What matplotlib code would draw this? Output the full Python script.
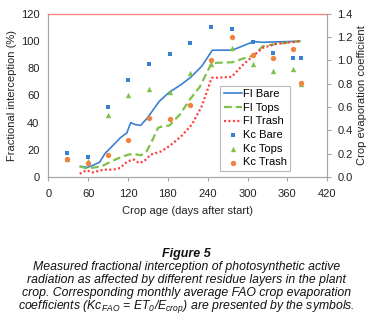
import matplotlib
matplotlib.use("Agg")
import matplotlib.pyplot as plt

plt.rcParams['font.family'] = ['Liberation Sans', 'DejaVu Sans']
plt.rcParams['mathtext.fontset'] = 'custom'
plt.rcParams['mathtext.rm'] = 'Liberation Sans:italic'
plt.rcParams['mathtext.it'] = 'Liberation Sans:italic'

# fractional interception lines (%)
fi_bare_day = [48, 59, 67, 77, 85, 96, 108, 118, 124, 131, 139, 149, 167, 182, 200, 215, 231, 247, 277, 309, 323, 379]
fi_bare = [7.8, 7.1, 8.6, 10.8, 17.2, 22.6, 28.7, 32.4, 40.0, 38.5, 38.0, 43.4, 55.7, 62.3, 68.0, 73.6, 81.5, 93.3, 93.3, 99.6, 99.1, 99.9]

fi_tops_day = [47, 59, 70, 80, 90, 103, 120, 129, 139, 148, 157, 165, 172, 182, 198, 213, 228, 246, 277, 292, 309, 323, 343, 379]
fi_tops = [7.8, 6.1, 7.1, 7.8, 10.3, 13.3, 16.4, 16.9, 15.9, 18.9, 27.5, 36.1, 37.3, 37.8, 45.9, 56.9, 66.3, 83.9, 84.4, 86.9, 89.3, 96.2, 97.9, 99.9]

fi_trash_day = [47, 57, 67, 83, 98, 108, 119, 129, 136, 144, 154, 170, 182, 200, 216, 231, 246, 276, 292, 309, 323, 343, 379]
fi_trash = [2.4, 4.9, 3.4, 5.4, 5.4, 6.6, 11.5, 12.8, 10.3, 11.5, 16.4, 18.9, 22.6, 29.9, 38.5, 52.0, 72.9, 73.6, 82.0, 89.3, 95.0, 97.9, 99.9]

# monthly FAO crop evaporation coefficients
kc_day = [28, 59, 89, 120, 152, 183, 214, 245, 276, 308, 338, 369, 380]
kc_bare = [0.21, 0.17, 0.60, 0.83, 0.97, 1.06, 1.15, 1.29, 1.27, 1.16, 1.065, 1.02, 1.02]
kc_tops = [0.15, 0.14, 0.53, 0.70, 0.756, 0.73, 0.89, 0.97, 1.105, 0.97, 0.91, 0.93, 0.80]
kc_trash = [0.152, 0.12, 0.186, 0.315, 0.51, 0.495, 0.62, 1.00, 1.20, 1.045, 1.02, 1.10, 0.805]

xticks = [0, 60, 120, 180, 240, 300, 360, 420]

blue = '#3a80d0'
green = '#7dc14b'
red = '#ff3a3a'
orange = '#ee8440'
grey = '#a6a6a6'
fs = 8

fig = plt.figure(figsize=(3.73, 3.16), dpi=100)
ax = fig.add_axes([0.130, 0.44, 0.747, 0.516])
ax2 = ax.twinx()

l1, = ax.plot(fi_bare_day, fi_bare, color=blue, lw=1.2, label='FI Bare')
l2, = ax.plot(fi_tops_day, fi_tops, color=green, lw=1.6, ls=(0, (3.5, 1.8)), label='FI Tops')
l3, = ax.plot(fi_trash_day, fi_trash, color=red, lw=1.6, ls=(0, (0.9, 1.1)), label='FI Trash')
ax.axhline(120, color='#f4877f', lw=1.0, clip_on=False)

s1 = ax2.scatter(kc_day, kc_bare, marker='s', s=11, color=blue, lw=0, label='Kc Bare')
s2 = ax2.scatter(kc_day, kc_tops, marker='^', s=15, color=green, lw=0, label='Kc Tops')
s3 = ax2.scatter(kc_day, kc_trash, marker='o', s=15, color=orange, lw=0, label='Kc Trash')

ax.set_xlim(0, 420)
ax.set_ylim(0, 120)
ax.set_xticks(xticks)
ax.set_yticks(range(0, 121, 20))
ax2.set_ylim(0, 1.4)
ax2.set_yticks([i * 0.2 for i in range(8)])
ax2.set_yticklabels([f'{i * 0.2:.1f}' for i in range(8)])

for a in (ax, ax2):
    for side in ('left', 'right', 'bottom'):
        a.spines[side].set_color(grey)
        a.spines[side].set_linewidth(0.8)
    a.spines['top'].set_visible(False)
    a.tick_params(labelsize=fs, colors=grey, labelcolor='#222222', length=3, width=0.8)
ax.tick_params(axis='x', pad=5.5)
ax.tick_params(axis='y', length=0, pad=6.5)
ax2.tick_params(axis='y', pad=4.5)

ax.set_xlabel('Crop age (days after start)', fontsize=fs, color='#222222', labelpad=5)
ax.set_ylabel('Fractional interception (%)', fontsize=fs, color='#222222', labelpad=3)
ax2.set_ylabel('Crop evaporation coefficient', fontsize=fs, color='#222222', labelpad=3)

leg = ax2.legend(handles=[l1, l2, l3, s1, s2, s3], loc='lower left',
                 bbox_to_anchor=(0.617, 0.038), fontsize=fs, frameon=True,
                 fancybox=False, edgecolor=grey, handlelength=1.6, handletextpad=0.1,
                 borderpad=0.3, labelspacing=0.33, borderaxespad=0)
leg.get_frame().set_linewidth(0.8)

fig.text(0.5, 0.196, 'Figure 5', ha='center', va='center', fontsize=9,
         style='italic', weight='bold', color='#111111')
caption = [
    'Measured fractional interception of photosynthetic active',
    'radiation as affected by different residue layers in the plant',
    'crop. Corresponding monthly average FAO crop evaporation',
    'coefficients (Kc$_{FAO}$ = ET$_{0}$/E$_{crop}$) are presented by the symbols.',
]
for i, line in enumerate(caption):
    fig.text(0.5, 0.155 - i * 0.0412, line, ha='center', va='center', fontsize=8.8,
             style='italic', color='#111111')

fig.savefig('out.png', dpi=100)
